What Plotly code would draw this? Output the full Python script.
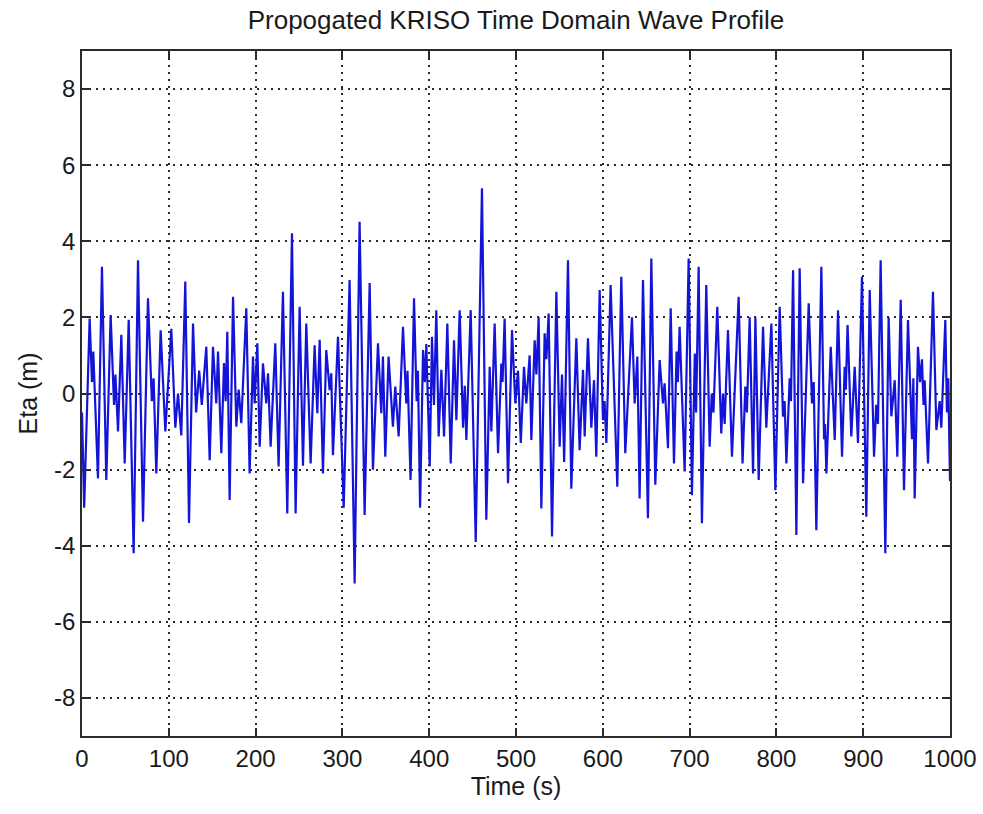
import plotly.graph_objects as go

# Extrema of the propagated wave profile (time in s, elevation in m)
time_s = [
    0, 2.5, 8.8, 11.5, 13.0, 18.4, 23.0, 28.0, 33.0, 36.9, 38.5, 41.5, 45.3, 49.2, 53.8,
    59.5, 64.5, 70.3, 76.0, 80.5, 82.5, 85.6, 90.6, 96.0, 102.9, 107.5, 110.6, 114.4,
    119.0, 123.3, 127.9, 131.5, 135.0, 138.0, 143.2, 147.1, 150.9, 154.7, 156.7, 160.5,
    163.6, 165.5, 167.4, 170.1, 174.0, 177.8, 180.5, 183.5, 189.3, 193.1, 197.0, 198.9,
    202.0, 204.7, 208.5, 212.3, 214.3, 217.3, 222.7, 226.5, 231.5, 236.5, 241.9, 246.1,
    250.7, 254.6, 258.4, 263.4, 268.0, 271.1, 273.8, 277.6, 281.4, 285.3, 287.2, 289.1,
    294.9, 301.5, 308.3, 314.1, 319.8, 325.6, 331.4, 335.2, 341.0, 344.8, 346.7, 349.4,
    353.2, 358.2, 360.9, 364.8, 369.8, 373.6, 375.0, 378.5, 382.5, 385.5, 387.0, 389.5,
    392.9, 395.0, 396.7, 400.6, 403.2, 405.5, 408.2, 410.9, 414.0, 417.1, 420.9, 424.8,
    428.6, 431.3, 435.1, 439.0, 441.0, 442.8, 447.8, 453.6, 460.8, 465.8, 469.7, 471.6,
    475.4, 479.3, 483.1, 484.5, 486.9, 490.8, 495.4, 499.2, 502.3, 505.5, 509.2, 511.9,
    515.7, 517.7, 521.5, 523.5, 526.1, 529.2, 533.0, 535.0, 537.6, 541.5, 546.5, 550.3,
    553.0, 555.5, 559.9, 563.7, 569.5, 573.3, 577.2, 579.1, 582.9, 586.8, 589.9, 592.5,
    596.4, 600.2, 602.0, 604.1, 609.0, 616.7, 621.3, 625.9, 633.6, 636.7, 639.8, 642.4,
    646.3, 652.0, 655.9, 660.5, 665.5, 669.3, 671.2, 675.1, 678.2, 682.0, 685.0, 686.5,
    688.5, 694.3, 698.9, 702.7, 706.0, 707.5, 710.4, 714.2, 719.2, 723.1, 725.5, 727.5,
    731.9, 736.5, 738.5, 740.4, 744.2, 748.8, 756.5, 761.0, 764.2, 766.0, 769.2, 773.1,
    775.8, 779.6, 784.6, 788.4, 794.2, 798.8, 803.8, 807.6, 809.5, 811.5, 815.3, 816.8,
    819.2, 823.0, 826.8, 830.7, 837.2, 841.0, 843.0, 846.0, 851.8, 854.9, 856.0, 857.6,
    862.6, 867.2, 871.0, 875.6, 878.7, 880.0, 882.0, 886.3, 890.2, 894.0, 898.6, 903.6,
    907.5, 912.5, 915.0, 917.0, 920.1, 925.5, 929.3, 932.4, 936.3, 939.3, 943.2, 947.0,
    951.6, 956.2, 957.8, 959.3, 963.1, 965.5, 967.7, 969.5, 970.8, 974.7, 980.4, 984.3,
    988.1, 990.0, 994.6, 996.5, 998.0, 1000.0,
]
eta_m = [
    -0.5, -3.0, 1.97, 0.3, 1.1, -2.23, 3.33, -2.27, 2.06, -0.3, 0.5, -1.0, 1.54, -1.84, 1.94,
    -4.2, 3.5, -3.37, 2.5, -0.2, 0.4, -2.1, 1.66, -1.0, 1.7, -0.9, 0.0, -1.1,
    2.94, -3.4, 1.84, -0.5, 0.6, -0.3, 1.23, -1.75, 1.23, -0.26, 1.1, -1.57,
    0.8, -0.2, 1.62, -2.8, 2.54, -0.87, 0.1, -0.78, 2.24, -2.1, 0.97, -0.26,
    1.32, -1.4, 0.79, -0.26, 0.53, -1.4, 1.32, -1.92, 2.67, -3.15, 4.21, -3.15,
    2.28, -1.9, 1.84, -1.84, 1.27, -0.52, 1.41, -2.1, 1.14, 0.09, 0.53, -1.62,
    1.49, -3.0, 2.98, -4.99, 4.51, -3.19, 2.9, -2.0, 1.32, -0.52, 0.97, -1.66,
    0.97, -0.87, 0.18, -1.13, 1.75, -0.26, 0.6, -2.27, 2.5, -0.2, 0.6, -3.0,
    1.14, 0.3, 1.3, -1.92, 1.49, -0.3, 2.19, -1.13, 0.62, -1.13, 1.84, -1.84,
    1.4, -0.7, 2.19, -0.9, 0.2, -1.22, 2.19, -3.9, 5.39, -3.32, 0.7, -1.0,
    1.84, -1.57, 0.79, 0.3, 1.97, -2.36, 1.67, -0.26, 0.6, -1.3, 0.7, -0.26,
    1.0, -1.22, 1.4, 0.5, 2.0, -3.02, 1.58, 0.9, 2.1, -3.76, 2.67, -1.4,
    0.5, -1.8, 3.5, -2.5, 1.45, -1.49, 0.62, -1.13, 1.45, -0.9, 0.35, -1.66,
    2.72, -0.7, -0.2, -1.3, 2.85, -2.45, 3.07, -1.57, 2.0, -0.26, 0.97, -2.76,
    2.98, -3.28, 3.55, -2.4, 0.88, -0.26, 0.27, -1.44, 2.24, -1.84, 1.1, 0.3,
    1.75, -2.05, 3.55, -2.67, 1.05, -0.5, 3.33, -3.41, 2.85, -1.4, 0.0, -0.5,
    2.28, -1.05, 0.0, -0.8, 1.67, -1.66, 2.54, -1.84, 0.18, -0.5, 2.0, -2.1,
    2.0, -2.27, 1.75, -0.9, 1.84, -2.54, 2.28, -0.61, -0.2, -1.84, 0.4, -0.2,
    3.24, -3.72, 3.29, -2.36, 2.37, -0.26, 0.3, -3.59, 3.33, -1.2, -0.8, -2.1,
    1.23, -1.22, 2.19, -1.66, 0.7, 0.1, 1.8, -1.13, 0.7, -1.3, 3.07, -3.24,
    2.72, -1.66, -0.3, -0.8, 3.5, -4.2, 2.0, -0.6, 0.35, -1.66, 2.46, -2.54,
    1.93, -1.2, 0.4, -2.76, 1.23, 0.3, 0.9, -0.3, 0.35, -1.84, 2.67, -0.96,
    -0.2, -0.9, 1.93, -0.5, 0.4, -2.3,
]

x_ticks = [0, 100, 200, 300, 400, 500, 600, 700, 800, 900, 1000]
y_ticks = [-8, -6, -4, -2, 0, 2, 4, 6, 8]

font_family = "Liberation Sans, Arial, sans-serif"
text_color = "#1a1a1a"

fig = go.Figure()
fig.add_trace(go.Scatter(
    x=time_s, y=eta_m, mode="lines",
    line=dict(color="#1414d8", width=2.2),
    showlegend=False, hoverinfo="skip",
))

axis_common = dict(
    showline=True, linecolor="#2b2b2b", linewidth=1.5, mirror="ticks",
    ticks="inside", ticklen=8, tickcolor="#2b2b2b", tickwidth=1.5,
    showgrid=True, gridcolor="#2b2b2b", griddash="1.5px,5.5px", gridwidth=1.5,
    zeroline=False, automargin=False,
    tickfont=dict(family=font_family, size=24, color=text_color),
)

fig.update_layout(
    width=983, height=814,
    paper_bgcolor="white", plot_bgcolor="white",
    margin=dict(l=82, r=33, t=51, b=78),
    title=dict(
        text="Propogated KRISO Time Domain Wave Profile",
        x=0.5, xref="paper", xanchor="center",
        y=1, yref="container", yanchor="top", pad=dict(t=11),
        font=dict(family=font_family, size=26, color=text_color),
    ),
    xaxis=dict(
        range=[0, 1000], tickvals=x_ticks, ticktext=[str(v) for v in x_ticks],
        title=dict(text="Time (s)", font=dict(family=font_family, size=25, color=text_color), standoff=7),
        **axis_common,
    ),
    yaxis=dict(
        range=[-9, 9], tickvals=y_ticks, ticktext=[str(v) for v in y_ticks],
        title=dict(text="Eta (m)", font=dict(family=font_family, size=25, color=text_color), standoff=9),
        **axis_common,
    ),
)

fig.write_html("out.html")
